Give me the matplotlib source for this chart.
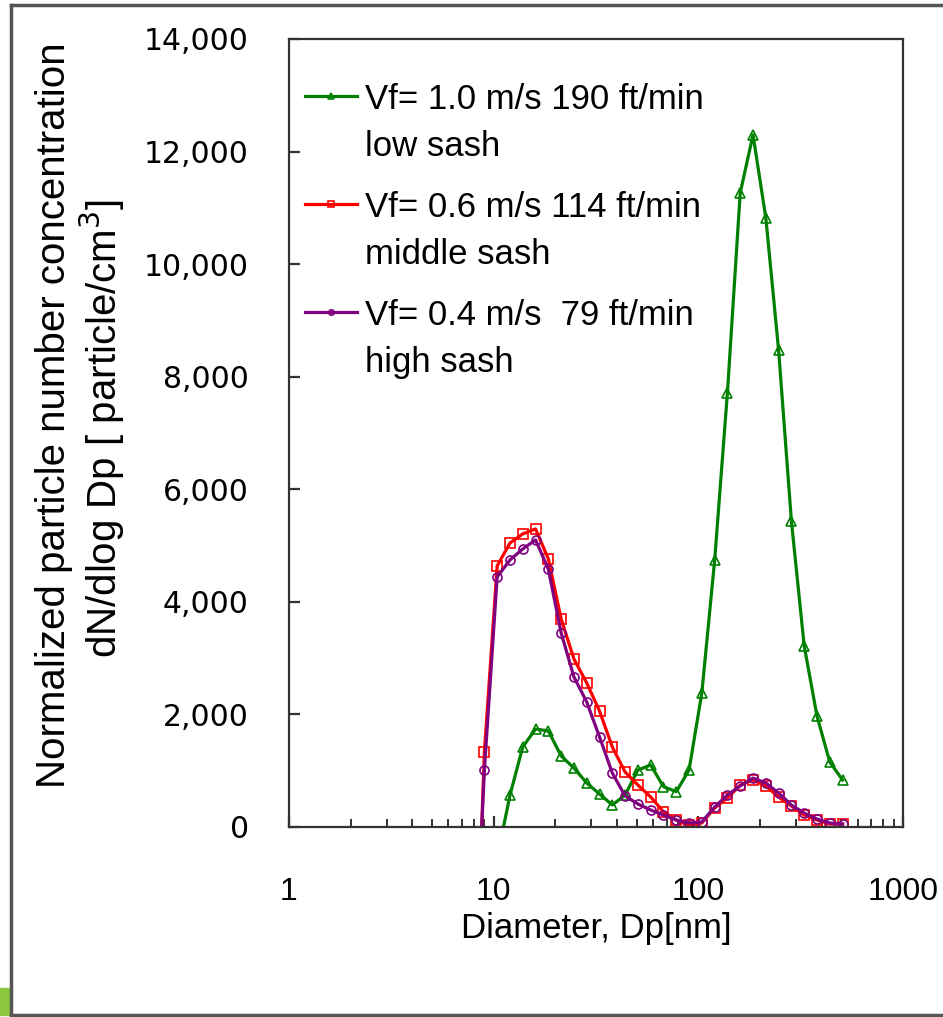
import matplotlib
matplotlib.use("Agg")
import matplotlib.pyplot as plt
from matplotlib.ticker import FuncFormatter, FixedLocator, NullFormatter
from matplotlib.patches import Rectangle
from matplotlib.lines import Line2D
from matplotlib.legend_handler import HandlerLine2D

plt.rcParams['font.family'] = ['Liberation Sans', 'DejaVu Sans']

# channel diameters (nm)
diam = [7.80, 9.01, 10.40, 12.02, 13.87, 16.02, 18.50, 21.37, 24.67, 28.49,
        32.90, 37.99, 43.87, 50.67, 58.51, 67.56, 78.02, 90.1, 104.0, 120.2,
        138.7, 160.2, 185.0, 213.7, 246.7, 284.9, 329.0, 379.9, 438.7, 506.7]

# dN/dlogDp (first channels fall below zero and are clipped)
low_sash = [-550, 569, 1422, 1741, 1706, 1262, 1048, 782, 586, 391,
            569, 1013, 1102, 716, 628, 1013, 2380, 4745, 7712, 11266,
            12297, 10822, 8476, 5438, 3220, 1972, 1155, 835]
middle_sash = [-5000, 1333, 4638, 5047, 5207, 5296, 4762, 3696, 2985, 2559,
               2061, 1422, 977, 746, 533, 270, 124, 30, 71, 338,
               515, 746, 835, 729, 533, 373, 213, 124, 53, 53]
high_sash = [-3800, 1013, 4443, 4745, 4940, 5100, 4580, 3447, 2666, 2221,
             1600, 960, 551, 409, 302, 213, 124, 71, 89, 355,
             569, 729, 870, 782, 604, 391, 249, 142, 71, 53]

labels = ["Vf= 1.0 m/s 190 ft/min\nlow sash",
          "Vf= 0.6 m/s 114 ft/min\nmiddle sash",
          "Vf= 0.4 m/s  79 ft/min\nhigh sash"]


class FirstLineHandler(HandlerLine2D):
    # put the legend sample level with the first line of a two-line label
    def create_artists(self, legend, orig_handle, xdescent, ydescent,
                       width, height, fontsize, trans):
        arts = super().create_artists(legend, orig_handle, xdescent, ydescent,
                                      width, height, fontsize, trans)
        for a in arts:
            a.set_ydata([y + 0.8 * fontsize for y in a.get_ydata()])
        return arts


fig = plt.figure(figsize=(9.43, 10.17), dpi=100)
ax = fig.add_axes([289/943, 1 - 827/1017, (903-289)/943, (827-39)/1017])

ax.plot(diam[2:], low_sash, color='#008000', lw=2.3, marker='^', ms=7.5,
        mfc='none', mew=1.2, label=labels[0])
ax.plot(diam, middle_sash, color='#ff0000', lw=2.3, marker='s', ms=7.5,
        mfc='none', mew=1.2, label=labels[1])
ax.plot(diam, high_sash, color='#800080', lw=2.3, marker='o', ms=6.5,
        mfc='none', mew=1.2, label=labels[2])

ax.set_xscale('log')
ax.set_xlim(1, 1000)
ax.set_ylim(0, 14000)
ax.set_yticks(range(0, 14001, 2000))
ax.yaxis.set_major_formatter(FuncFormatter(lambda v, p: f"{int(v):,}"))
ax.xaxis.set_major_locator(FixedLocator([1, 10, 100, 1000]))
ax.xaxis.set_major_formatter(FuncFormatter(lambda v, p: f"{int(v)}"))
ax.xaxis.set_minor_locator(FixedLocator([m * d for d in (1, 10, 100) for m in range(2, 10)]))
ax.xaxis.set_minor_formatter(NullFormatter())

for s in ax.spines.values():
    s.set_color('#333333')
    s.set_linewidth(1.6)
ax.tick_params(axis='both', which='major', direction='in', length=8, width=1.6, color='#333333')
ax.tick_params(axis='x', which='minor', direction='in', length=6, width=1.4, color='#333333')
ax.tick_params(axis='y', pad=29, labelsize=21.5)
ax.tick_params(axis='x', pad=36, labelsize=23)
for t in ax.get_yticklabels():
    t.set_family('DejaVu Sans')

ax.set_xlabel("Diameter, Dp[nm]", fontsize=25)
ax.xaxis.set_label_coords(0.5, -0.108)

fig.text(54/943, 1 - 415/1017, "Normalized particle number concentration",
         rotation=90, ha='center', va='center', fontsize=29)
fig.text(102/943, 1 - 428/1017, "dN/dlog Dp [ particle/cm$^3$]",
         rotation=90, ha='center', va='center', fontsize=29)

leg = ax.legend(loc='upper left', bbox_to_anchor=(0.026, 0.944), frameon=False,
                fontsize=25, handlelength=1.5, handletextpad=0.23,
                labelspacing=0.8, borderaxespad=0, borderpad=0, markerscale=0.6,
                handler_map={Line2D: FirstLineHandler()})
for t in leg.get_texts():
    t.set_linespacing(1.54)

# slide frame
fig.add_artist(Line2D([11/943, 1], [1 - 5/1017, 1 - 5/1017], color='#555555', lw=2.5))
fig.add_artist(Line2D([11/943, 11/943], [1 - 5/1017, 1 - 1015/1017], color='#555555', lw=2.5))
fig.add_artist(Line2D([11/943, 1], [1 - 1015/1017, 1 - 1015/1017], color='#555555', lw=2.5))
fig.add_artist(Rectangle((0, 1 - 1015/1017), 10/943, 27/1017, color='#8dc63f', transform=fig.transFigure))

fig.savefig("out.png", dpi=100)
